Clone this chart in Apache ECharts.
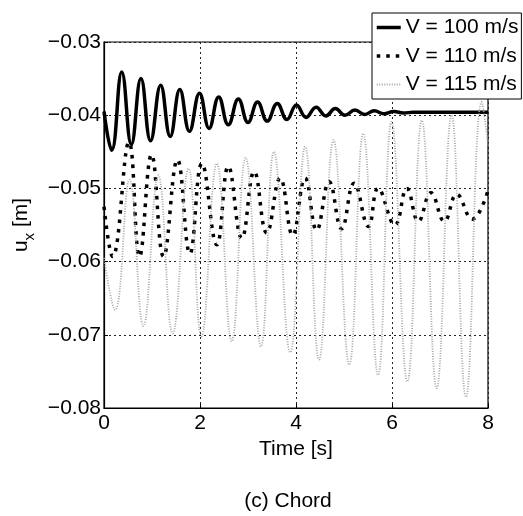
<!DOCTYPE html>
<html>
<head>
<meta charset="utf-8">
<script src="https://cdn.jsdelivr.net/npm/echarts@6/dist/echarts.min.js"></script>
<style>
  html, body { margin: 0; padding: 0; background: #fff; }
  #main { width: 523px; height: 516px; }
</style>
</head>
<body>
<div id="main"></div>
<script>
// peaks / troughs, time [s] and u_x [m]
var t100 = [0, 0.16, 0.37, 0.57, 0.77, 0.97, 1.18, 1.38, 1.58, 1.78, 1.99, 2.19, 2.39, 2.59, 2.8, 3.0, 3.2, 3.4, 3.61, 3.81, 4.01, 4.21, 4.42, 4.62, 4.82, 5.02, 5.23, 5.43, 5.63, 5.83, 6.04, 6.24, 6.44, 7.0, 8.0];
var u100 = [-0.0395, -0.0448, -0.0341, -0.0440, -0.0350, -0.0435, -0.0359, -0.0429, -0.0365, -0.0422, -0.0370, -0.0418, -0.0375, -0.0413, -0.0378, -0.0410, -0.0382, -0.0408, -0.0384, -0.0406, -0.0386, -0.0403, -0.0389, -0.0401, -0.0391, -0.0400, -0.0393, -0.0399, -0.0394, -0.0398, -0.0395, -0.0397, -0.0396, -0.0396, -0.0396];

var t110 = [0, 0.18, 0.52, 0.74, 0.99, 1.24, 1.53, 1.79, 2.04, 2.35, 2.59, 2.87, 3.13, 3.39, 3.67, 3.93, 4.19, 4.43, 4.69, 4.95, 5.21, 5.51, 5.71, 6.06, 6.31, 6.55, 6.81, 7.09, 7.35, 7.67, 8.0];
var u110 = [-0.0525, -0.0593, -0.0437, -0.0593, -0.0454, -0.0593, -0.0461, -0.0589, -0.0466, -0.0577, -0.0470, -0.0568, -0.0477, -0.0561, -0.0486, -0.0564, -0.0486, -0.0557, -0.0491, -0.0555, -0.0493, -0.0552, -0.0500, -0.0550, -0.0500, -0.0545, -0.0506, -0.0545, -0.0508, -0.0542, -0.0503];

var t115 = [0, 0.23, 0.53, 0.82, 1.13, 1.43, 1.76, 2.03, 2.35, 2.66, 2.95, 3.27, 3.54, 3.88, 4.19, 4.48, 4.78, 5.11, 5.40, 5.71, 5.99, 6.32, 6.62, 6.93, 7.24, 7.54, 7.87, 8.0];
var u115 = [-0.0595, -0.0666, -0.0488, -0.0688, -0.0482, -0.0698, -0.0473, -0.0702, -0.0466, -0.0709, -0.0458, -0.0716, -0.0450, -0.0724, -0.0443, -0.0734, -0.0434, -0.0741, -0.0425, -0.0755, -0.0409, -0.0764, -0.0407, -0.0773, -0.0400, -0.0785, -0.0382, -0.0440];

var names = ['V = 100 m/s', 'V = 110 m/s', 'V = 115 m/s'];
var xTicks = [0, 2, 4, 6, 8];
var yTicks = [-0.08, -0.07, -0.06, -0.05, -0.04, -0.03];

function pairs(t, u) {
  return t.map(function (v, i) { return [v, u[i]]; });
}

var FONT = 'Liberation Sans, Arial, sans-serif';
var chart = echarts.init(document.getElementById('main'));

var option = {
  animation: false,
  backgroundColor: '#fff',
  grid: {
    left: 104, right: 35, top: 42, bottom: 108,
    show: true, borderColor: '#000', borderWidth: 1.2, backgroundColor: 'transparent'
  },
  legend: {
    orient: 'vertical',
    left: 372, top: 13,
    padding: [4, 3, 4, 3],
    itemGap: 7.5,
    itemWidth: 24, itemHeight: 14,
    itemTextGap: 3,
    itemStyle: { opacity: 0 },
    lineStyle: { width: 'inherit' },
    backgroundColor: '#fff',
    borderColor: '#000', borderWidth: 1,
    textStyle: { fontFamily: FONT, fontSize: 21, color: '#000' },
    data: names
  },
  xAxis: {
    type: 'value',
    min: xTicks[0], max: xTicks[xTicks.length - 1], interval: 2,
    name: 'Time [s]', nameLocation: 'middle', nameGap: 28,
    nameTextStyle: { fontFamily: FONT, fontSize: 21, color: '#000' },
    axisLine: { show: true, lineStyle: { color: '#000', width: 1.2 } },
    axisTick: { show: true, inside: true, length: 4, lineStyle: { color: '#000' } },
    axisLabel: { margin: 5, fontFamily: FONT, fontSize: 21, color: '#000' },
    splitLine: { show: true, lineStyle: { color: '#222', width: 1, type: [2, 3] } }
  },
  yAxis: {
    type: 'value',
    min: yTicks[0], max: yTicks[yTicks.length - 1], interval: 0.01,
    name: '{a|u}{s|x}{a| [m]}', nameLocation: 'middle', nameGap: 58, nameRotate: 90,
    nameTextStyle: {
      fontFamily: FONT, color: '#000',
      rich: {
        a: { fontFamily: FONT, fontSize: 21, color: '#000' },
        s: { fontFamily: FONT, fontSize: 15, color: '#000', padding: [16, 0, 0, 0] }
      }
    },
    axisLine: { show: true, lineStyle: { color: '#000', width: 1.2 } },
    axisTick: { show: true, inside: true, length: 4, lineStyle: { color: '#000' } },
    axisLabel: {
      margin: 3, fontFamily: FONT, fontSize: 21, color: '#000',
      formatter: function (v) { return v.toFixed(2).replace('-', '\u2212'); }
    },
    splitLine: { show: true, lineStyle: { color: '#222', width: 1, type: [2, 3] } }
  },
  graphic: [{
    type: 'text', x: 288, y: 501,
    style: { text: '(c) Chord', font: '21px ' + FONT, fill: '#000', textAlign: 'center', textVerticalAlign: 'middle' }
  }],
  series: [
    {
      name: names[0], type: 'line', data: pairs(t100, u100),
      smooth: 0.45, symbol: 'none',
      lineStyle: { color: '#000', width: 3.5 },
      itemStyle: { color: '#000' }
    },
    {
      name: names[1], type: 'line', data: pairs(t110, u110),
      smooth: 0.45, symbol: 'none',
      lineStyle: { color: '#000', width: 3.5, type: [3.5, 6], cap: 'butt' },
      itemStyle: { color: '#000' }
    },
    {
      name: names[2], type: 'line', data: pairs(t115, u115),
      smooth: 0.45, symbol: 'none',
      lineStyle: { color: '#a6a6a6', width: 1.8, type: [1, 1.5], cap: 'butt' },
      itemStyle: { color: '#a6a6a6' }
    }
  ]
};

chart.setOption(option);
</script>
</body>
</html>
